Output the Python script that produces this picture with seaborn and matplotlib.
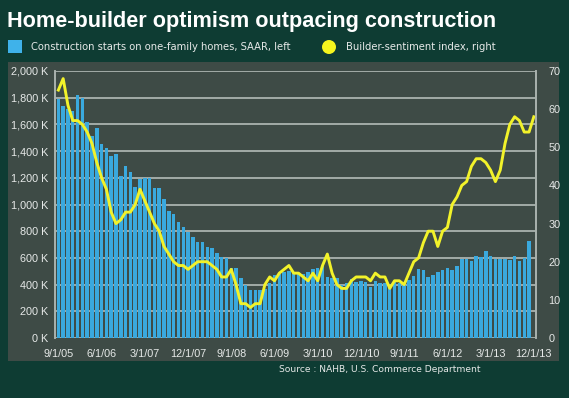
import numpy as np
import pandas as pd
import matplotlib
matplotlib.use("Agg")
import matplotlib.pyplot as plt
from matplotlib.patches import Rectangle, Ellipse
import seaborn as sns

# monthly data, Sep 2005 .. Dec 2013
starts = [1790, 1740, 1715, 1700, 1820, 1800, 1620, 1510, 1570, 1450,
          1420, 1365, 1380, 1210, 1290, 1245, 1130, 1190, 1200, 1200,
          1125, 1125, 1040, 955, 930, 870, 830, 795, 760, 720,
          720, 680, 676, 640, 610, 597, 527, 527, 452, 395,
          357, 357, 357, 368, 410, 470, 480, 495, 505, 490,
          487, 480, 495, 515, 525, 540, 460, 450, 447, 400,
          410, 440, 422, 425, 417, 385, 425, 412, 412, 390,
          420, 410, 405, 434, 462, 517, 506, 455, 475, 498,
          506, 524, 513, 539, 590, 590, 575, 612, 604, 649,
          616, 594, 594, 594, 582, 612, 579, 597, 724]
sentiment = [65, 68, 61, 57, 57, 56, 54, 51, 46, 42,
             39, 33, 30, 31, 33, 33, 35, 39, 36, 33,
             30, 28, 24, 22, 20, 19, 19, 18, 19, 20,
             20, 20, 19, 18, 16, 16, 18, 14, 9, 9,
             8, 9, 9, 14, 16, 15, 17, 18, 19, 17,
             17, 16, 15, 17, 15, 19, 22, 17, 14, 13,
             13, 15, 16, 16, 16, 15, 17, 16, 16, 13,
             15, 15, 14, 17, 20, 21, 25, 28, 28, 24,
             28, 29, 35, 37, 40, 41, 45, 47, 47, 46,
             44, 41, 44, 51, 56, 58, 57, 54, 54, 58]
tick_labels = ['9/1/05', '6/1/06', '3/1/07', '12/1/07', '9/1/08', '6/1/09',
               '3/1/10', '12/1/10', '9/1/11', '6/1/12', '3/1/13', '12/1/13']

bg = '#0e3c33'
panel = '#3e4b46'
grid_c = '#aab3af'
txt = '#e6e9e8'
bar_c = '#3aa9de'
line_c = '#f2f22a'

df_bar = pd.DataFrame({'month': np.arange(len(starts)), 'starts': starts})
df_line = pd.DataFrame({'month': np.arange(len(sentiment)), 'index': sentiment})

fig = plt.figure(figsize=(5.69, 3.98), dpi=100, facecolor=bg)
fig.add_artist(Rectangle((8 / 569, 1 - 361 / 398), 551 / 569, 299 / 398,
                         transform=fig.transFigure, facecolor=panel,
                         edgecolor='none', zorder=-5))
ax = fig.add_axes([55 / 569, 1 - 338 / 398, 481 / 569, 267 / 398])
ax.set_facecolor(panel)

sns.barplot(data=df_bar, x='month', y='starts', native_scale=True,
            color=bar_c, saturation=1, width=0.72, errorbar=None, ax=ax, zorder=3)
ax.set_ylim(0, 2000)
ax.set_xlim(-0.7, 99.45)
yt = np.arange(0, 2001, 200)
ax.set_yticks(yt)
ax.set_yticklabels([f'{v:,} K' for v in yt])
ax.set_xticks(np.arange(0, 100, 9))
ax.set_xticklabels(tick_labels)
ax.grid(axis='y', color=grid_c, linewidth=1.3, zorder=4)
ax.set_axisbelow(False)
ax.grid(axis='x', visible=False)
ax.set_xlabel('')
ax.set_ylabel('')
ax.tick_params(axis='y', length=0, colors=txt, labelsize=7.8, pad=5)
ax.tick_params(axis='x', length=0, colors=txt, labelsize=7.8, pad=8)

ax2 = ax.twinx()
sns.lineplot(data=df_line, x='month', y='index', color=line_c, linewidth=2.1, ax=ax2)
ax2.set_ylim(0, 70)
ax2.set_yticks(np.arange(0, 71, 10))
ax2.set_ylabel('')
ax2.tick_params(length=0, colors=txt, labelsize=7.8, pad=9)
for a in (ax, ax2):
    for s in ('top', 'bottom'):
        a.spines[s].set_visible(False)
    for s in ('left', 'right'):
        a.spines[s].set_color(grid_c)
        a.spines[s].set_linewidth(1.2)
for lbl in ax.get_xticklabels() + ax.get_yticklabels() + ax2.get_yticklabels():
    lbl.set_family('Liberation Sans')

fig.text(7 / 569, 1 - 21 / 398, 'Home-builder optimism outpacing construction',
         color='white', fontsize=15.6, fontweight='bold', family='Liberation Sans',
         va='center', ha='left')
fig.add_artist(Rectangle((8 / 569, 1 - 53 / 398), 14 / 569, 13 / 398,
                         transform=fig.transFigure, facecolor='#3fb2ea',
                         edgecolor='none'))
fig.text(31 / 569, 1 - 47 / 398, 'Construction starts on one-family homes, SAAR, left',
         color=txt, fontsize=7.2, va='center', ha='left')
fig.add_artist(Ellipse((329 / 569, 1 - 47 / 398), 14 / 569, 14 / 398,
                       transform=fig.transFigure, facecolor='#f5f51e',
                       edgecolor='none'))
fig.text(346 / 569, 1 - 47 / 398, 'Builder-sentiment index, right',
         color=txt, fontsize=7.2, va='center', ha='left')
fig.text(279 / 569, 1 - 370 / 398, 'Source : NAHB, U.S. Commerce Department',
         color=txt, fontsize=6.6, va='center', ha='left')

fig.savefig('out.png', dpi=100, facecolor=bg)
